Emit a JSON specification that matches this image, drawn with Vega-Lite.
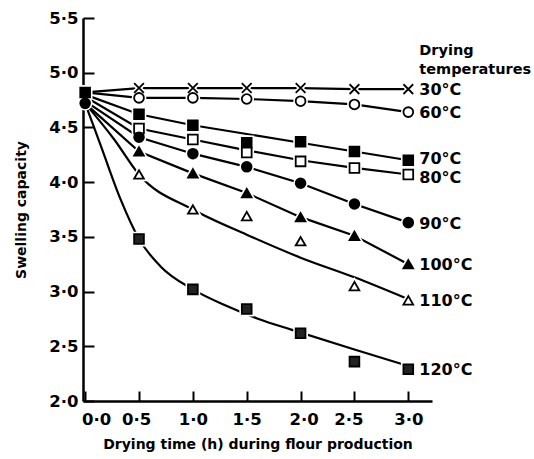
{
  "$schema": "https://vega.github.io/schema/vega-lite/v6.json",
  "width": 349,
  "height": 383,
  "autosize": {"type": "none"},
  "padding": {"left": 83, "top": 18, "right": 102, "bottom": 58},
  "background": "white",
  "config": {
    "view": {"stroke": null},
    "font": "DejaVu Sans",
    "axis": {
      "grid": false,
      "domainColor": "black",
      "tickColor": "black",
      "labelColor": "black",
      "titleColor": "black",
      "labelFont": "DejaVu Sans",
      "titleFont": "DejaVu Sans",
      "labelFontWeight": "bold",
      "titleFontWeight": "bold",
      "labelFontSize": 16.5,
      "titleFontSize": 14,
      "domainWidth": 2.5,
      "tickWidth": 2
    }
  },
  "datasets": {
    "pts": [
      {"temp": "30°C", "time": 0.5, "sc": 4.86}, {"temp": "30°C", "time": 1.0, "sc": 4.86}, {"temp": "30°C", "time": 1.5, "sc": 4.86},
      {"temp": "30°C", "time": 2.0, "sc": 4.86}, {"temp": "30°C", "time": 2.5, "sc": 4.85}, {"temp": "30°C", "time": 3.0, "sc": 4.85},
      {"temp": "60°C", "time": 0.5, "sc": 4.77}, {"temp": "60°C", "time": 1.0, "sc": 4.77}, {"temp": "60°C", "time": 1.5, "sc": 4.76},
      {"temp": "60°C", "time": 2.0, "sc": 4.74}, {"temp": "60°C", "time": 2.5, "sc": 4.71}, {"temp": "60°C", "time": 3.0, "sc": 4.64},
      {"temp": "70°C", "time": 0.0, "sc": 4.82},
      {"temp": "70°C", "time": 0.5, "sc": 4.62}, {"temp": "70°C", "time": 1.0, "sc": 4.52}, {"temp": "70°C", "time": 1.5, "sc": 4.36},
      {"temp": "70°C", "time": 2.0, "sc": 4.37}, {"temp": "70°C", "time": 2.5, "sc": 4.28}, {"temp": "70°C", "time": 3.0, "sc": 4.20},
      {"temp": "80°C", "time": 0.5, "sc": 4.49}, {"temp": "80°C", "time": 1.0, "sc": 4.39}, {"temp": "80°C", "time": 1.5, "sc": 4.27},
      {"temp": "80°C", "time": 2.0, "sc": 4.19}, {"temp": "80°C", "time": 2.5, "sc": 4.13}, {"temp": "80°C", "time": 3.0, "sc": 4.07},
      {"temp": "90°C", "time": 0.0, "sc": 4.72},
      {"temp": "90°C", "time": 0.5, "sc": 4.41}, {"temp": "90°C", "time": 1.0, "sc": 4.26}, {"temp": "90°C", "time": 1.5, "sc": 4.14},
      {"temp": "90°C", "time": 2.0, "sc": 3.99}, {"temp": "90°C", "time": 2.5, "sc": 3.80}, {"temp": "90°C", "time": 3.0, "sc": 3.63},
      {"temp": "100°C", "time": 0.5, "sc": 4.28}, {"temp": "100°C", "time": 1.0, "sc": 4.08}, {"temp": "100°C", "time": 1.5, "sc": 3.90},
      {"temp": "100°C", "time": 2.0, "sc": 3.68}, {"temp": "100°C", "time": 2.5, "sc": 3.51}, {"temp": "100°C", "time": 3.0, "sc": 3.25},
      {"temp": "110°C", "time": 0.5, "sc": 4.07}, {"temp": "110°C", "time": 1.0, "sc": 3.75}, {"temp": "110°C", "time": 1.5, "sc": 3.69},
      {"temp": "110°C", "time": 2.0, "sc": 3.46}, {"temp": "110°C", "time": 2.5, "sc": 3.05}, {"temp": "110°C", "time": 3.0, "sc": 2.92},
      {"temp": "120°C", "time": 0.5, "sc": 3.48}, {"temp": "120°C", "time": 1.0, "sc": 3.02}, {"temp": "120°C", "time": 1.5, "sc": 2.84},
      {"temp": "120°C", "time": 2.0, "sc": 2.62}, {"temp": "120°C", "time": 2.5, "sc": 2.36}, {"temp": "120°C", "time": 3.0, "sc": 2.29}
    ],
    "crv": [
      {"temp": "30°C", "smooth": false, "time": 0.0, "sc": 4.82}, {"temp": "30°C", "smooth": false, "time": 0.5, "sc": 4.86},
      {"temp": "30°C", "smooth": false, "time": 1.0, "sc": 4.86}, {"temp": "30°C", "smooth": false, "time": 1.5, "sc": 4.86},
      {"temp": "30°C", "smooth": false, "time": 2.0, "sc": 4.86}, {"temp": "30°C", "smooth": false, "time": 2.5, "sc": 4.85},
      {"temp": "30°C", "smooth": false, "time": 3.0, "sc": 4.85},
      {"temp": "60°C", "smooth": false, "time": 0.0, "sc": 4.82}, {"temp": "60°C", "smooth": false, "time": 0.5, "sc": 4.77},
      {"temp": "60°C", "smooth": false, "time": 1.0, "sc": 4.77}, {"temp": "60°C", "smooth": false, "time": 1.5, "sc": 4.76},
      {"temp": "60°C", "smooth": false, "time": 2.0, "sc": 4.74}, {"temp": "60°C", "smooth": false, "time": 2.5, "sc": 4.71},
      {"temp": "60°C", "smooth": false, "time": 3.0, "sc": 4.64},
      {"temp": "70°C", "smooth": false, "time": 0.0, "sc": 4.80}, {"temp": "70°C", "smooth": false, "time": 0.5, "sc": 4.62},
      {"temp": "70°C", "smooth": false, "time": 1.0, "sc": 4.52}, {"temp": "70°C", "smooth": false, "time": 1.5, "sc": 4.44},
      {"temp": "70°C", "smooth": false, "time": 2.0, "sc": 4.36}, {"temp": "70°C", "smooth": false, "time": 2.5, "sc": 4.28},
      {"temp": "70°C", "smooth": false, "time": 3.0, "sc": 4.20},
      {"temp": "80°C", "smooth": false, "time": 0.0, "sc": 4.78}, {"temp": "80°C", "smooth": false, "time": 0.5, "sc": 4.49},
      {"temp": "80°C", "smooth": false, "time": 1.0, "sc": 4.39}, {"temp": "80°C", "smooth": false, "time": 1.5, "sc": 4.29},
      {"temp": "80°C", "smooth": false, "time": 2.0, "sc": 4.20}, {"temp": "80°C", "smooth": false, "time": 2.5, "sc": 4.13},
      {"temp": "80°C", "smooth": false, "time": 3.0, "sc": 4.07},
      {"temp": "90°C", "smooth": false, "time": 0.0, "sc": 4.74}, {"temp": "90°C", "smooth": false, "time": 0.5, "sc": 4.41},
      {"temp": "90°C", "smooth": false, "time": 1.0, "sc": 4.26}, {"temp": "90°C", "smooth": false, "time": 1.5, "sc": 4.14},
      {"temp": "90°C", "smooth": false, "time": 2.0, "sc": 3.99}, {"temp": "90°C", "smooth": false, "time": 2.5, "sc": 3.80},
      {"temp": "90°C", "smooth": false, "time": 3.0, "sc": 3.63},
      {"temp": "100°C", "smooth": false, "time": 0.0, "sc": 4.72}, {"temp": "100°C", "smooth": false, "time": 0.5, "sc": 4.28},
      {"temp": "100°C", "smooth": false, "time": 1.0, "sc": 4.08}, {"temp": "100°C", "smooth": false, "time": 1.5, "sc": 3.90},
      {"temp": "100°C", "smooth": false, "time": 2.0, "sc": 3.68}, {"temp": "100°C", "smooth": false, "time": 2.5, "sc": 3.51},
      {"temp": "100°C", "smooth": false, "time": 3.0, "sc": 3.25},
      {"temp": "110°C", "smooth": true, "time": 0.0, "sc": 4.72}, {"temp": "110°C", "smooth": true, "time": 0.27, "sc": 4.39},
      {"temp": "110°C", "smooth": true, "time": 0.5, "sc": 4.07}, {"temp": "110°C", "smooth": true, "time": 1.0, "sc": 3.75},
      {"temp": "110°C", "smooth": true, "time": 1.5, "sc": 3.52}, {"temp": "110°C", "smooth": true, "time": 2.0, "sc": 3.31},
      {"temp": "110°C", "smooth": true, "time": 2.5, "sc": 3.13}, {"temp": "110°C", "smooth": true, "time": 3.0, "sc": 2.93},
      {"temp": "120°C", "smooth": true, "time": 0.0, "sc": 4.72}, {"temp": "120°C", "smooth": true, "time": 0.15, "sc": 4.32},
      {"temp": "120°C", "smooth": true, "time": 0.33, "sc": 3.84}, {"temp": "120°C", "smooth": true, "time": 0.5, "sc": 3.48},
      {"temp": "120°C", "smooth": true, "time": 0.7, "sc": 3.23}, {"temp": "120°C", "smooth": true, "time": 1.0, "sc": 3.02},
      {"temp": "120°C", "smooth": true, "time": 1.31, "sc": 2.87}, {"temp": "120°C", "smooth": true, "time": 1.61, "sc": 2.75},
      {"temp": "120°C", "smooth": true, "time": 1.92, "sc": 2.65}, {"temp": "120°C", "smooth": true, "time": 2.5, "sc": 2.47},
      {"temp": "120°C", "smooth": true, "time": 3.0, "sc": 2.32}
    ]
  },
  "encoding": {
    "x": {
      "field": "time", "type": "quantitative",
      "scale": {"domain": [-0.02, 3.22], "nice": false, "zero": false},
      "axis": {
        "title": "Drying time (h) during flour production",
        "values": [0, 0.5, 1, 1.5, 2, 2.5, 3],
        "labelExpr": "replace(format(datum.value, '.1f'), '.', '·')",
        "labelOffset": {"expr": "datum.value == 0 ? 11 : datum.value == 0.5 ? -3 : datum.value == 2 ? 3 : datum.value == 2.5 ? -6 : 0"},
        "tickSize": -10,
        "labelPadding": 20,
        "titlePadding": 10
      }
    },
    "y": {
      "field": "sc", "type": "quantitative",
      "scale": {"domain": [2.0, 5.5], "nice": false, "zero": false},
      "axis": {
        "title": "Swelling capacity",
        "values": [2, 2.5, 3, 3.5, 4, 4.5, 5, 5.5],
        "labelExpr": "replace(format(datum.value, '.1f'), '.', '·')",
        "tickSize": -11,
        "labelPadding": 16,
        "titlePadding": 20
      }
    }
  },
  "layer": [
    {
      "data": {"name": "crv"},
      "transform": [{"filter": "!datum.smooth"}],
      "mark": {"type": "line", "color": "black", "strokeWidth": 2.2, "interpolate": "linear"},
      "encoding": {"detail": {"field": "temp"}}
    },
    {
      "data": {"name": "crv"},
      "transform": [{"filter": "datum.smooth"}],
      "mark": {"type": "line", "color": "black", "strokeWidth": 2.2, "interpolate": "monotone"},
      "encoding": {"detail": {"field": "temp"}}
    },
    {
      "data": {"name": "pts"},
      "mark": {"type": "point", "filled": true, "fill": "white", "stroke": "white", "strokeWidth": 5, "size": 95, "opacity": 1},
      "encoding": {
        "shape": {
          "field": "temp", "type": "nominal", "legend": null,
          "scale": {
            "domain": ["30°C", "60°C", "70°C", "80°C", "90°C", "100°C", "110°C", "120°C"],
            "range": ["M-1,-1L1,1M-1,1L1,-1", "circle", "square", "square", "circle", "triangle-up", "triangle-up", "square"]
          }
        }
      }
    },
    {
      "data": {"name": "pts"},
      "mark": {"type": "point", "filled": true, "stroke": "black", "strokeWidth": 1.8, "size": 95, "opacity": 1},
      "encoding": {
        "shape": {"field": "temp", "type": "nominal", "legend": null},
        "fill": {
          "field": "temp", "type": "nominal", "legend": null,
          "scale": {
            "domain": ["30°C", "60°C", "70°C", "80°C", "90°C", "100°C", "110°C", "120°C"],
            "range": ["white", "white", "black", "white", "black", "black", "white", "#222222"]
          }
        }
      }
    },
    {
      "data": {"name": "pts"},
      "transform": [{"filter": "datum.time == 3 && datum.temp != '80°C' && datum.temp != '70°C'"}],
      "mark": {"type": "text", "align": "left", "baseline": "middle", "dx": 11, "dy": 1, "font": "DejaVu Sans", "fontWeight": "bold", "fontSize": 16, "color": "black"},
      "encoding": {"text": {"field": "temp"}}
    },
    {
      "data": {"name": "pts"},
      "transform": [{"filter": "datum.time == 3 && datum.temp == '70°C'"}],
      "mark": {"type": "text", "align": "left", "baseline": "middle", "dx": 11, "dy": -1, "font": "DejaVu Sans", "fontWeight": "bold", "fontSize": 16, "color": "black"},
      "encoding": {"text": {"field": "temp"}}
    },
    {
      "data": {"name": "pts"},
      "transform": [{"filter": "datum.time == 3 && datum.temp == '80°C'"}],
      "mark": {"type": "text", "align": "left", "baseline": "middle", "dx": 11, "dy": 4, "font": "DejaVu Sans", "fontWeight": "bold", "fontSize": 16, "color": "black"},
      "encoding": {"text": {"field": "temp"}}
    },
    {
      "data": {"name": "pts"},
      "transform": [{"filter": "datum.time == 3 && datum.temp == '30°C'"}],
      "mark": {"type": "text", "align": "left", "baseline": "alphabetic", "dx": 11, "dy": -34, "lineHeight": 19, "font": "DejaVu Sans", "fontWeight": "bold", "fontSize": 14.5, "color": "black"},
      "encoding": {"text": {"value": ["Drying", "temperatures"]}}
    }
  ]
}
